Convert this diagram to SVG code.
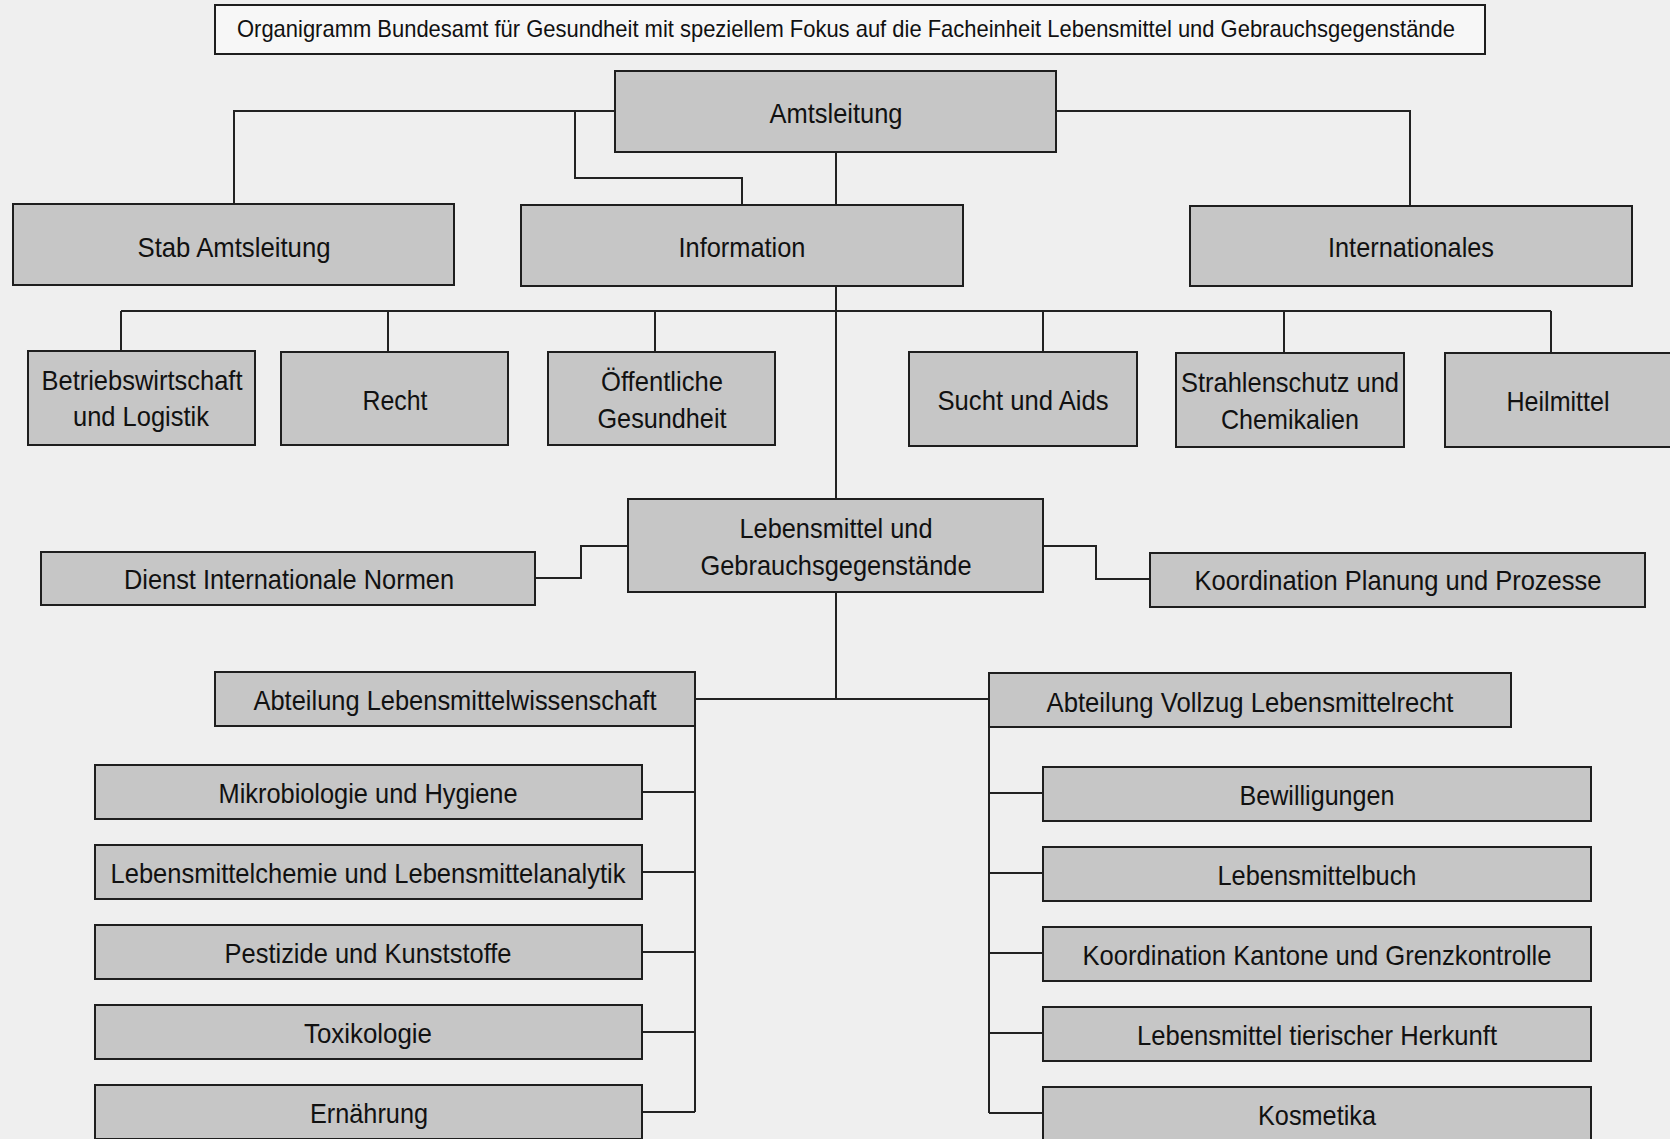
<svg xmlns="http://www.w3.org/2000/svg" width="1670" height="1139" viewBox="0 0 1670 1139">
<style>
.bx{fill:#c6c6c6;stroke:#1e1e1e;stroke-width:2}
.tb{fill:#f7f7f7;stroke:#1e1e1e;stroke-width:2}
.ln{fill:none;stroke:#222;stroke-width:2}
text{font-family:"Liberation Sans Narrow","Liberation Sans",Arial,sans-serif;font-size:28.5px;fill:#111;text-anchor:middle}
.tt{font-size:24px}
</style>
<rect width="1670" height="1139" fill="#efefef"/>
<g id="connectors">
<path class="ln" d="M615,111 H234 V204"/>
<path class="ln" d="M575,111 V178 H742 V205"/>
<path class="ln" d="M1056,111 H1410 V206"/>
<path class="ln" d="M836,152 V205 M836,286 V499"/>
<path class="ln" d="M121,311 H1551 M121,311 V351 M388,311 V352 M655,311 V352 M1043,311 V352 M1284,311 V353 M1551,311 V353"/>
<path class="ln" d="M535,578 H581 V546 H628"/>
<path class="ln" d="M1043,546 H1096 V579 H1150"/>
<path class="ln" d="M836,592 V699 M695,699 H989"/>
<path class="ln" d="M695,726 V1112 M642,792 H695 M642,872 H695 M642,952 H695 M642,1032 H695 M642,1112 H695"/>
<path class="ln" d="M989,727 V1113 M989,793 H1043 M989,873 H1043 M989,953 H1043 M989,1033 H1043 M989,1113 H1043"/>
</g>
<g id="title"><rect class="tb" x="215" y="5" width="1270" height="49"/><text class="tt" x="846" y="37" textLength="1218" lengthAdjust="spacingAndGlyphs">Organigramm Bundesamt für Gesundheit mit speziellem Fokus auf die Facheinheit Lebensmittel und Gebrauchsgegenstände</text></g>
<g id="amtsleitung"><rect class="bx" x="615" y="71" width="441" height="81"/><text x="836" y="123" textLength="133" lengthAdjust="spacingAndGlyphs">Amtsleitung</text></g>
<g id="stab"><rect class="bx" x="13" y="204" width="441" height="81"/><text x="234" y="257" textLength="193" lengthAdjust="spacingAndGlyphs">Stab Amtsleitung</text></g>
<g id="information"><rect class="bx" x="521" y="205" width="442" height="81"/><text x="742" y="257" textLength="127" lengthAdjust="spacingAndGlyphs">Information</text></g>
<g id="internationales"><rect class="bx" x="1190" y="206" width="442" height="80"/><text x="1411" y="257" textLength="166" lengthAdjust="spacingAndGlyphs">Internationales</text></g>
<g id="betrieb"><rect class="bx" x="28" y="351" width="227" height="94"/><text x="142" y="390" textLength="201" lengthAdjust="spacingAndGlyphs">Betriebswirtschaft</text><text x="141" y="426" textLength="136" lengthAdjust="spacingAndGlyphs">und Logistik</text></g>
<g id="recht"><rect class="bx" x="281" y="352" width="227" height="93"/><text x="395" y="410" textLength="65" lengthAdjust="spacingAndGlyphs">Recht</text></g>
<g id="oeffentlich"><rect class="bx" x="548" y="352" width="227" height="93"/><text x="662" y="391" textLength="122" lengthAdjust="spacingAndGlyphs">Öffentliche</text><text x="662" y="428" textLength="129" lengthAdjust="spacingAndGlyphs">Gesundheit</text></g>
<g id="sucht"><rect class="bx" x="909" y="352" width="228" height="94"/><text x="1023" y="410" textLength="171" lengthAdjust="spacingAndGlyphs">Sucht und Aids</text></g>
<g id="strahlen"><rect class="bx" x="1176" y="353" width="228" height="94"/><text x="1290" y="392" textLength="218" lengthAdjust="spacingAndGlyphs">Strahlenschutz und</text><text x="1290" y="429" textLength="138" lengthAdjust="spacingAndGlyphs">Chemikalien</text></g>
<g id="heilmittel"><rect class="bx" x="1445" y="353" width="228" height="94"/><text x="1558" y="411" textLength="103" lengthAdjust="spacingAndGlyphs">Heilmittel</text></g>
<g id="lebensmittel"><rect class="bx" x="628" y="499" width="415" height="93"/><text x="836" y="538" textLength="193" lengthAdjust="spacingAndGlyphs">Lebensmittel und</text><text x="836" y="575" textLength="271" lengthAdjust="spacingAndGlyphs">Gebrauchsgegenstände</text></g>
<g id="dienst"><rect class="bx" x="41" y="552" width="494" height="53"/><text x="289" y="589" textLength="330" lengthAdjust="spacingAndGlyphs">Dienst Internationale Normen</text></g>
<g id="koordplanung"><rect class="bx" x="1150" y="553" width="495" height="54"/><text x="1398" y="590" textLength="407" lengthAdjust="spacingAndGlyphs">Koordination Planung und Prozesse</text></g>
<g id="abtwiss"><rect class="bx" x="215" y="672" width="480" height="54"/><text x="455" y="710" textLength="403" lengthAdjust="spacingAndGlyphs">Abteilung Lebensmittelwissenschaft</text></g>
<g id="mikro"><rect class="bx" x="95" y="765" width="547" height="54"/><text x="368" y="803" textLength="299" lengthAdjust="spacingAndGlyphs">Mikrobiologie und Hygiene</text></g>
<g id="chemie"><rect class="bx" x="95" y="845" width="547" height="54"/><text x="368" y="883" textLength="515" lengthAdjust="spacingAndGlyphs">Lebensmittelchemie und Lebensmittelanalytik</text></g>
<g id="pestizide"><rect class="bx" x="95" y="925" width="547" height="54"/><text x="368" y="963" textLength="287" lengthAdjust="spacingAndGlyphs">Pestizide und Kunststoffe</text></g>
<g id="toxikologie"><rect class="bx" x="95" y="1005" width="547" height="54"/><text x="368" y="1043" textLength="128" lengthAdjust="spacingAndGlyphs">Toxikologie</text></g>
<g id="ernaehrung"><rect class="bx" x="95" y="1085" width="547" height="54"/><text x="369" y="1123" textLength="118" lengthAdjust="spacingAndGlyphs">Ernährung</text></g>
<g id="abtvollzug"><rect class="bx" x="989" y="673" width="522" height="54"/><text x="1250" y="712" textLength="407" lengthAdjust="spacingAndGlyphs">Abteilung Vollzug Lebensmittelrecht</text></g>
<g id="bewilligungen"><rect class="bx" x="1043" y="767" width="548" height="54"/><text x="1317" y="805" textLength="155" lengthAdjust="spacingAndGlyphs">Bewilligungen</text></g>
<g id="lmbuch"><rect class="bx" x="1043" y="847" width="548" height="54"/><text x="1317" y="885" textLength="199" lengthAdjust="spacingAndGlyphs">Lebensmittelbuch</text></g>
<g id="kantone"><rect class="bx" x="1043" y="927" width="548" height="54"/><text x="1317" y="965" textLength="469" lengthAdjust="spacingAndGlyphs">Koordination Kantone und Grenzkontrolle</text></g>
<g id="tierisch"><rect class="bx" x="1043" y="1007" width="548" height="54"/><text x="1317" y="1045" textLength="360" lengthAdjust="spacingAndGlyphs">Lebensmittel tierischer Herkunft</text></g>
<g id="kosmetika"><rect class="bx" x="1043" y="1087" width="548" height="54"/><text x="1317" y="1125" textLength="118" lengthAdjust="spacingAndGlyphs">Kosmetika</text></g>
</svg>
